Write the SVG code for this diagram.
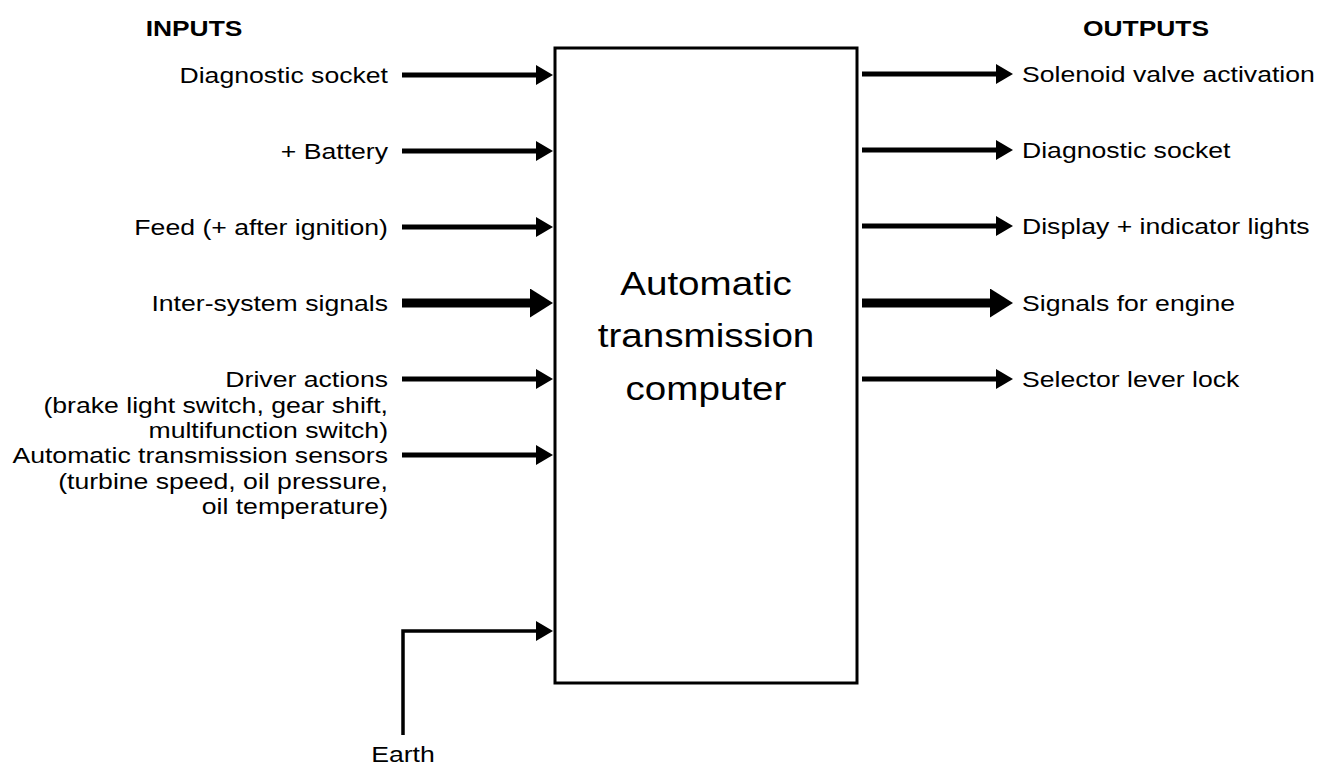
<svg xmlns="http://www.w3.org/2000/svg" width="1328" height="769" viewBox="0 0 1328 769">
<defs>
<style>
text{font-family:"Liberation Sans",Arial,sans-serif;fill:#000}
.lbl{font-size:22px}
.hdr{font-size:22px;font-weight:bold}
.big{font-size:33px}
.thin{stroke:#000;stroke-width:5;fill:none}
.thick{stroke:#000;stroke-width:9;fill:none}
.earth{stroke:#000;stroke-width:3.5;fill:none}
</style>
<marker id="ah" markerUnits="userSpaceOnUse" markerWidth="18" markerHeight="20" refX="1" refY="10" orient="auto" viewBox="0 0 18 20"><path d="M0,0 L17,10 L0,20 z" fill="#000"/></marker>
<marker id="ahT" markerUnits="userSpaceOnUse" markerWidth="24" markerHeight="29" refX="1" refY="14.5" orient="auto" viewBox="0 0 24 29"><path d="M0,0 L23,14.5 L0,29 z" fill="#000"/></marker>
</defs>
<rect width="1328" height="769" fill="#fff"/>

<g id="computer">
<rect x="555" y="48" width="302" height="635" fill="#fff" stroke="#000" stroke-width="3"/>
<g transform="translate(706,0) scale(1.17,1)">
<text class="big" text-anchor="middle" x="0" y="295">Automatic</text>
<text class="big" text-anchor="middle" x="0" y="347">transmission</text>
<text class="big" text-anchor="middle" x="0" y="400">computer</text>
</g>
</g>

<g id="connectors">
<line class="thin" x1="402" y1="75" x2="537" y2="75" marker-end="url(#ah)"/>
<line class="thin" x1="402" y1="151" x2="537" y2="151" marker-end="url(#ah)"/>
<line class="thin" x1="402" y1="227" x2="537" y2="227" marker-end="url(#ah)"/>
<line class="thick" x1="402" y1="303" x2="531" y2="303" marker-end="url(#ahT)"/>
<line class="thin" x1="402" y1="379" x2="537" y2="379" marker-end="url(#ah)"/>
<line class="thin" x1="402" y1="455" x2="537" y2="455" marker-end="url(#ah)"/>
<polyline class="earth" points="403,735 403,631 537,631" marker-end="url(#ah)"/>
<line class="thin" x1="862" y1="74" x2="997" y2="74" marker-end="url(#ah)"/>
<line class="thin" x1="862" y1="150" x2="997" y2="150" marker-end="url(#ah)"/>
<line class="thin" x1="862" y1="226" x2="997" y2="226" marker-end="url(#ah)"/>
<line class="thick" x1="862" y1="303" x2="991" y2="303" marker-end="url(#ahT)"/>
<line class="thin" x1="862" y1="379" x2="997" y2="379" marker-end="url(#ah)"/>
</g>

<g id="inputs-header" transform="translate(194,0) scale(1.2,1)"><text class="hdr" text-anchor="middle" x="0" y="36">INPUTS</text></g>
<g id="outputs-header" transform="translate(1146,0) scale(1.2,1)"><text class="hdr" text-anchor="middle" x="0" y="36">OUTPUTS</text></g>

<g id="in-diag" transform="translate(388,0) scale(1.21,1)"><text class="lbl" text-anchor="end" x="0" y="83">Diagnostic socket</text></g>
<g id="in-battery" transform="translate(388,0) scale(1.21,1)"><text class="lbl" text-anchor="end" x="0" y="159">+ Battery</text></g>
<g id="in-feed" transform="translate(388,0) scale(1.21,1)"><text class="lbl" text-anchor="end" x="0" y="235">Feed (+ after ignition)</text></g>
<g id="in-inter" transform="translate(388,0) scale(1.21,1)"><text class="lbl" text-anchor="end" x="0" y="311">Inter-system signals</text></g>
<g id="in-driver" transform="translate(388,0) scale(1.21,1)">
<text class="lbl" text-anchor="end" x="0" y="387">Driver actions</text>
<text class="lbl" text-anchor="end" x="0" y="413">(brake light switch, gear shift,</text>
<text class="lbl" text-anchor="end" x="0" y="438">multifunction switch)</text>
</g>
<g id="in-sensors" transform="translate(388,0) scale(1.21,1)">
<text class="lbl" text-anchor="end" x="0" y="463">Automatic transmission sensors</text>
<text class="lbl" text-anchor="end" x="0" y="489">(turbine speed, oil pressure,</text>
<text class="lbl" text-anchor="end" x="0" y="514">oil temperature)</text>
</g>
<g id="in-earth" transform="translate(403,0) scale(1.21,1)"><text class="lbl" text-anchor="middle" x="0" y="762">Earth</text></g>

<g id="out-solenoid" transform="translate(1022,0) scale(1.21,1)"><text class="lbl" x="0" y="82">Solenoid valve activation</text></g>
<g id="out-diag" transform="translate(1022,0) scale(1.21,1)"><text class="lbl" x="0" y="158">Diagnostic socket</text></g>
<g id="out-display" transform="translate(1022,0) scale(1.21,1)"><text class="lbl" x="0" y="234">Display + indicator lights</text></g>
<g id="out-engine" transform="translate(1022,0) scale(1.21,1)"><text class="lbl" x="0" y="311">Signals for engine</text></g>
<g id="out-lock" transform="translate(1022,0) scale(1.21,1)"><text class="lbl" x="0" y="387">Selector lever lock</text></g>
</svg>
